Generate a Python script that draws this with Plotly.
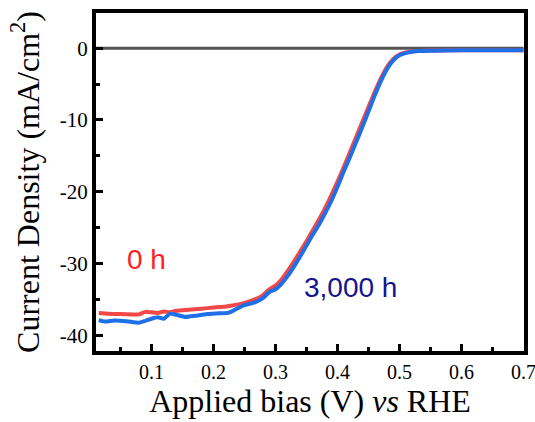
import plotly.graph_objects as go

# ---- data ----
bias_0h = [0.015, 0.03, 0.05, 0.07, 0.08, 0.09, 0.10, 0.11, 0.12, 0.13, 0.14, 0.16, 0.18, 0.20,
           0.22, 0.23, 0.24, 0.25, 0.26, 0.27, 0.28, 0.29, 0.30, 0.31, 0.32, 0.33, 0.34, 0.35,
           0.36, 0.37, 0.38, 0.39, 0.40, 0.41, 0.42, 0.43, 0.44, 0.45, 0.46, 0.47, 0.48, 0.49,
           0.50, 0.51, 0.52, 0.53, 0.55, 0.58, 0.62, 0.66, 0.70]
j_0h = [-36.9, -37.0, -37.05, -37.1, -37.1, -36.75, -36.8, -36.9, -36.7, -36.8, -36.6, -36.45,
        -36.3, -36.15, -36.0, -35.85, -35.7, -35.5, -35.2, -34.9, -34.4, -33.6, -33.1, -32.2,
        -31.0, -29.7, -28.3, -26.9, -25.4, -23.9, -22.3, -20.5, -18.6, -16.6, -14.5, -12.4,
        -10.3, -8.2, -6.1, -4.2, -2.6, -1.5, -0.9, -0.6, -0.45, -0.38, -0.33, -0.3, -0.3,
        -0.28, -0.28]

bias_3000h = [0.015, 0.025, 0.04, 0.06, 0.08, 0.09, 0.10, 0.11, 0.12, 0.13, 0.14, 0.155, 0.17,
              0.19, 0.21, 0.225, 0.24, 0.25, 0.26, 0.27, 0.28, 0.29, 0.30, 0.31, 0.32, 0.33,
              0.34, 0.35, 0.36, 0.37, 0.38, 0.39, 0.40, 0.41, 0.42, 0.43, 0.44, 0.45, 0.46,
              0.47, 0.48, 0.49, 0.50, 0.51, 0.52, 0.53, 0.55, 0.60, 0.65, 0.70]
j_3000h = [-37.9, -38.1, -37.95, -38.05, -38.25, -38.0, -37.7, -37.5, -37.7, -37.0, -37.15,
           -37.45, -37.3, -37.05, -36.95, -36.85, -36.2, -35.8, -35.6, -35.3, -34.8, -34.0,
           -33.6, -32.8, -31.7, -30.4, -29.0, -27.5, -26.0, -24.6, -23.0, -21.3, -19.3, -17.2,
           -15.2, -13.1, -11.0, -8.8, -6.6, -4.6, -2.9, -1.7, -1.0, -0.7, -0.5, -0.4, -0.35,
           -0.3, -0.3, -0.28]

bias_dark = [0.01, 0.70]
j_dark = [0.0, 0.0]

x_ticks = [0.1, 0.2, 0.3, 0.4, 0.5, 0.6, 0.7]
y_ticks = [0, -10, -20, -30, -40]

fig = go.Figure()
fig.add_trace(go.Scatter(x=bias_dark, y=j_dark, mode="lines",
                         line=dict(color="#555555", width=3), showlegend=False))
fig.add_trace(go.Scatter(x=bias_0h, y=j_0h, mode="lines",
                         line=dict(color="#f24848", width=4, shape="spline", smoothing=0.6),
                         showlegend=False))
fig.add_trace(go.Scatter(x=bias_3000h, y=j_3000h, mode="lines",
                         line=dict(color="#1f6fe6", width=4, shape="spline", smoothing=0.6),
                         showlegend=False))

fig.add_annotation(x=0.092, y=-29.5, xref="x", yref="y", text="0 h", showarrow=False,
                   font=dict(family="Liberation Sans, Arial", size=28, color="#ff2020"))
fig.add_annotation(x=0.4215, y=-33.3, xref="x", yref="y", text="3,000 h", showarrow=False,
                   font=dict(family="Liberation Sans, Arial", size=28, color="#14148c"))

serif = "Liberation Serif, Times New Roman, serif"
fig.update_layout(
    width=535, height=422,
    margin=dict(l=96, r=11, t=13, b=71),
    paper_bgcolor="white", plot_bgcolor="white",
    font=dict(family=serif, color="black"),
    xaxis=dict(range=[0.0105, 0.7008], tickvals=x_ticks, ticktext=[str(v) for v in x_ticks],
               ticks="inside", ticklen=7, tickwidth=3, tickcolor="black",
               minor=dict(tickvals=[0.05, 0.15, 0.25, 0.35, 0.45, 0.55, 0.65],
                          ticks="inside", ticklen=4, tickwidth=3, tickcolor="black"),
               showline=True, linewidth=4, linecolor="black", mirror=True,
               showgrid=False, zeroline=False, automargin=False,
               ticklabeloverflow="allow",
               tickfont=dict(family=serif, size=20),
               title=dict(text="Applied bias (V) <i>vs</i> RHE",
                          font=dict(family=serif, size=32), standoff=4)),
    yaxis=dict(range=[-42.2, 4.9], tickvals=y_ticks, ticktext=[str(v) for v in y_ticks],
               ticks="inside", ticklen=7, tickwidth=3, tickcolor="black",
               minor=dict(tickvals=[-5, -15, -25, -35],
                          ticks="inside", ticklen=4, tickwidth=3, tickcolor="black"),
               showline=True, linewidth=4, linecolor="black", mirror=True,
               showgrid=False, zeroline=False, automargin=False,
               tickfont=dict(family=serif, size=21),
               title=dict(text="Current Density (mA/cm<sup>2</sup>)",
                          font=dict(family=serif, size=32), standoff=12)),
)

fig.write_html("out.html")
